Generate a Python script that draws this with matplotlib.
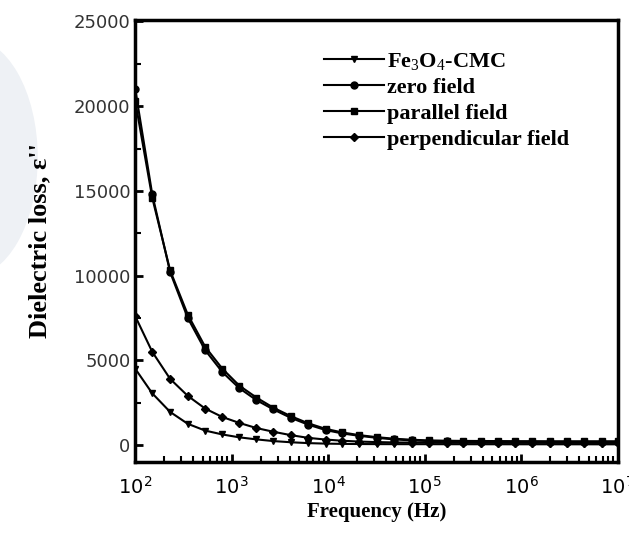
import math
import matplotlib
matplotlib.use('Agg')
import matplotlib.pyplot as plt
from matplotlib.patches import Ellipse
from matplotlib.ticker import FixedLocator, LogLocator, NullFormatter, FuncFormatter

plt.rcParams['mathtext.fontset'] = 'custom'
plt.rcParams['mathtext.rm'] = 'Liberation Serif'
plt.rcParams['mathtext.it'] = 'Liberation Serif:italic'
plt.rcParams['mathtext.bf'] = 'Liberation Serif:bold'

# frequency points (Hz)
freq = [100, 150, 230, 350, 530, 800, 1200, 1800, 2700, 4100, 6200, 9400,
        14000, 21000, 32000, 48000, 73000, 110000, 170000, 250000, 380000,
        570000, 870000, 1300000, 2000000, 3000000, 4500000, 6800000, 10000000]

# dielectric loss for each sample
fe3o4_cmc = [4500, 3050, 1950, 1250, 850, 620, 450, 330, 230, 160, 110, 80,
             65, 55, 50, 48, 46, 45, 44, 43, 42, 41, 40, 40, 40, 39, 39, 38, 38]
zero_field = [21000, 14800, 10200, 7500, 5600, 4300, 3350, 2650, 2100, 1600,
              1200, 880, 680, 540, 420, 330, 270, 230, 210, 200, 190, 185,
              180, 180, 175, 175, 170, 170, 170]
parallel_field = [20300, 14600, 10300, 7700, 5800, 4500, 3500, 2800, 2200,
                  1700, 1280, 950, 740, 580, 460, 370, 310, 270, 250, 240,
                  235, 230, 225, 225, 220, 220, 220, 220, 220]
perp_field = [7600, 5500, 3900, 2900, 2150, 1650, 1300, 1000, 780, 580, 420,
              320, 250, 200, 170, 150, 140, 135, 130, 130, 128, 126, 125, 125,
              124, 123, 122, 121, 120]

series = [
    (fe3o4_cmc, 'v', r'Fe$_3$O$_4$-CMC'),
    (zero_field, 'o', 'zero field'),
    (parallel_field, 's', 'parallel field'),
    (perp_field, 'D', 'perpendicular field'),
]

fig = plt.figure(figsize=(6.29, 5.34), dpi=100)

# faint watermark blob at the left edge
fig.patches.append(Ellipse((-0.05, 0.705), 0.22, 0.45, transform=fig.transFigure,
                           facecolor='#eef1f5', edgecolor='none', zorder=-1))

ax = fig.add_axes([0.215, 0.135, 0.767, 0.828])

for vals, mk, lab in series:
    ms = 4.5 if mk == 'D' else 5
    ax.plot(freq, vals, color='black', lw=1.5, marker=mk, markersize=ms,
            label=lab)

ax.set_xscale('log')
ax.set_xlim(100, 1e7)
ax.set_ylim(-1000, 25100)

ax.yaxis.set_major_locator(FixedLocator([0, 5000, 10000, 15000, 20000, 25000]))
ax.yaxis.set_minor_locator(FixedLocator([2500, 7500, 12500, 17500, 22500]))
ax.xaxis.set_major_locator(LogLocator(base=10, numticks=10))
ax.xaxis.set_minor_locator(LogLocator(base=10, subs=range(2, 10), numticks=20))
ax.xaxis.set_minor_formatter(NullFormatter())
ax.xaxis.set_major_formatter(FuncFormatter(
    lambda v, p: r'$\mathregular{10^{%d}}$' % round(math.log10(v))))

for s in ax.spines.values():
    s.set_linewidth(2.5)
ax.tick_params(which='major', direction='in', length=6, width=2)
ax.tick_params(which='minor', direction='in', length=4, width=1.5)
ax.tick_params(axis='x', which='both', top=False, pad=10)
ax.tick_params(axis='y', which='both', right=False)

for t in ax.get_yticklabels():
    t.set_fontfamily('DejaVu Sans')
    t.set_fontsize(13)
    t.set_color('#333333')
for t in ax.get_xticklabels():
    t.set_fontsize(14)

ax.set_xlabel('Frequency (Hz)', fontfamily='Liberation Serif',
              fontweight='bold', fontsize=15, labelpad=3)
ax.set_ylabel("Dielectric loss, \u03b5''", fontfamily='Liberation Serif',
              fontweight='bold', fontsize=19, labelpad=16)

leg = ax.legend(loc='upper left', bbox_to_anchor=(0.36, 0.965), frameon=False,
                prop={'family': 'Liberation Serif', 'weight': 'bold', 'size': 16},
                handlelength=2.7, handletextpad=0.1, labelspacing=0.25,
                borderpad=0.2)

fig.savefig('out.png', dpi=100)
